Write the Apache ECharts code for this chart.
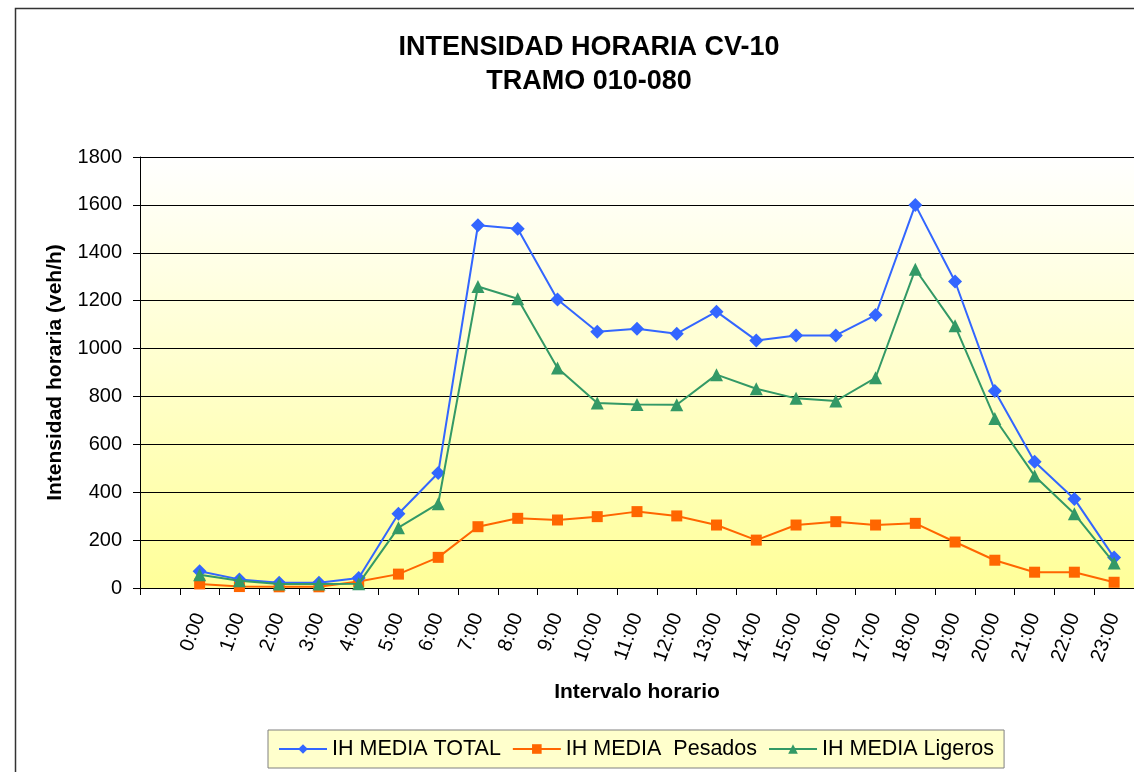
<!DOCTYPE html>
<html>
<head>
<meta charset="utf-8">
<script src="https://cdn.jsdelivr.net/npm/echarts@6/dist/echarts.min.js"></script>
<style>
html,body{margin:0;padding:0;background:#fff;}
#c{width:1134px;height:772px;}
</style>
</head>
<body>
<div id="c"></div>
<script>
var hours = ['0:00','1:00','2:00','3:00','4:00','5:00','6:00','7:00','8:00','9:00','10:00','11:00','12:00','13:00','14:00','15:00','16:00','17:00','18:00','19:00','20:00','21:00','22:00','23:00'];
var total   = [70, 36, 22, 22, 42, 310, 480, 1515, 1500, 1205, 1070, 1083, 1062, 1154, 1034, 1055, 1055, 1140, 1600, 1280, 823, 527, 372, 127];
var pesados = [17, 6, 5, 5, 27, 58, 128, 256, 291, 284, 298, 319, 301, 263, 200, 263, 277, 263, 270, 192, 116, 66, 66, 24];
var ligeros = [55, 30, 17, 17, 18, 252, 352, 1259, 1208, 919, 773, 766, 765, 891, 832, 792, 781, 878, 1331, 1095, 708, 468, 310, 104];
var yTicks = {min: 0, max: 1800, interval: 200};
var seriesNames = ['IH MEDIA TOTAL', 'IH MEDIA  Pesados', 'IH MEDIA Ligeros'];

var cats = [''].concat(hours);
function pad(a){ return [null].concat(a); }

var chart = echarts.init(document.getElementById('c'));
var font = 'Liberation Sans, Arial, sans-serif';
chart.setOption({
  animation: false,
  backgroundColor: '#fff',
  textStyle: {fontFamily: font},
  title: {
    text: 'INTENSIDAD HORARIA CV-10\nTRAMO 010-080',
    left: 589, top: 31, textAlign: 'center',
    padding: 0,
    textStyle: {fontFamily: font, fontSize: 27, fontWeight: 'bold', color: '#000', lineHeight: 34}
  },
  graphic: [{
    type: 'rect', silent: true, z: -10,
    shape: {x: 15.5, y: 8.5, width: 1200, height: 900},
    style: {fill: 'none', stroke: '#333', lineWidth: 1.5}
  }],
  grid: {
    left: 140, top: 157, width: 1000, height: 431,
    show: true, borderWidth: 0,
    backgroundColor: new echarts.graphic.LinearGradient(0, 0, 0, 1, [
      {offset: 0, color: '#FFFFFF'},
      {offset: 1, color: '#FFFF99'}
    ])
  },
  legend: {
    left: 268, top: 730,
    itemWidth: 48, itemHeight: 12, itemGap: 11,
    padding: [8, 10, 8, 10],
    backgroundColor: '#FFFFCC', borderColor: '#808080', borderWidth: 1,
    textStyle: {fontFamily: font, fontSize: 21.5, color: '#000'},
    data: seriesNames
  },
  xAxis: {
    type: 'category', data: cats, boundaryGap: true,
    name: 'Intervalo horario', nameLocation: 'middle', nameGap: 94,
    nameTextStyle: {fontFamily: font, fontSize: 21, fontWeight: 'bold', color: '#000'},
    axisLine: {lineStyle: {color: '#000', width: 1}},
    axisTick: {show: true, interval: 0, length: 7, lineStyle: {color: '#000'}},
    axisLabel: {interval: 0, rotate: 70, margin: 26, fontSize: 20, color: '#000', fontFamily: font},
    splitLine: {show: false}
  },
  yAxis: {
    type: 'value', min: yTicks.min, max: yTicks.max, interval: yTicks.interval,
    name: 'Intensidad horaria (veh/h)', nameLocation: 'middle', nameGap: 74, nameRotate: 90,
    nameTextStyle: {fontFamily: font, fontSize: 21, fontWeight: 'bold', color: '#000'},
    axisLine: {show: true, lineStyle: {color: '#000', width: 1}},
    axisTick: {show: true, length: 7, lineStyle: {color: '#000'}},
    axisLabel: {margin: 18, fontSize: 20, color: '#000', fontFamily: font,
      formatter: function (v) { return String(v); }},
    splitLine: {show: true, lineStyle: {color: '#000', width: 1}}
  },
  series: [
    {name: seriesNames[0], type: 'line', data: pad(total), symbol: 'diamond', symbolSize: 14,
     itemStyle: {color: '#3366FF'}, lineStyle: {color: '#3366FF', width: 2}, z: 3},
    {name: seriesNames[1], type: 'line', data: pad(pesados), symbol: 'rect', symbolSize: 11,
     itemStyle: {color: '#FF6600'}, lineStyle: {color: '#FF6600', width: 2}, z: 2},
    {name: seriesNames[2], type: 'line', data: pad(ligeros), symbol: 'triangle', symbolSize: 13,
     itemStyle: {color: '#339966'}, lineStyle: {color: '#339966', width: 2}, z: 4}
  ]
});
</script>
</body>
</html>
